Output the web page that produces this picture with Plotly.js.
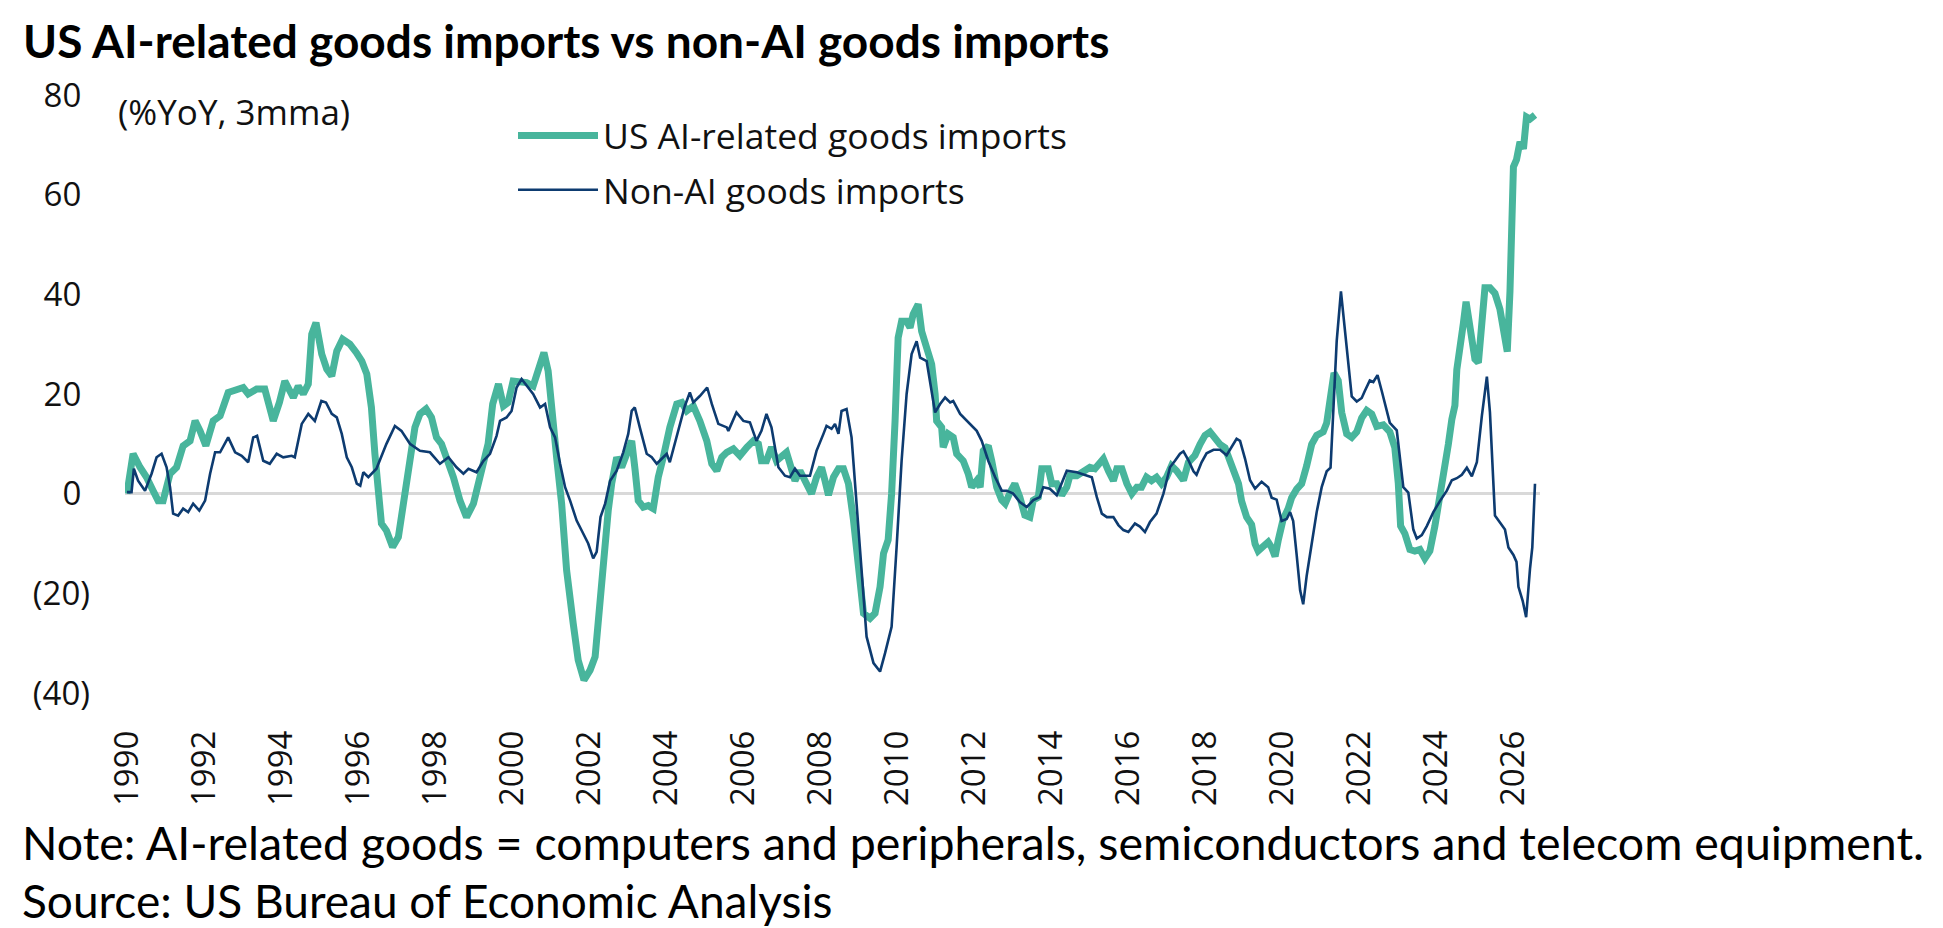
<!DOCTYPE html>
<html>
<head>
<meta charset="utf-8">
<script src="https://cdn.plot.ly/plotly-3.0.1.min.js"></script>
<style>
  html, body { margin: 0; padding: 0; background: #fff; }
  #chart { width: 1943px; height: 928px; }
</style>
</head>
<body>
<div id="chart"></div>
<script>
// values (%YoY, 3mma), x in decimal years
const aiYears = [
  1990.0, 1990.16, 1990.34, 1990.51, 1990.68, 1990.81, 1990.94, 1991.12, 1991.29, 1991.46,
  1991.64, 1991.77, 1991.9, 1992.05, 1992.24, 1992.42, 1992.63, 1992.85, 1993.02, 1993.15,
  1993.37, 1993.58, 1993.8, 1993.96, 1994.1, 1994.32, 1994.45, 1994.58, 1994.71, 1994.8,
  1994.91, 1995.06, 1995.19, 1995.32, 1995.45, 1995.6, 1995.79, 1995.96, 1996.1, 1996.23,
  1996.35, 1996.44, 1996.53, 1996.61, 1996.74, 1996.9, 1997.05, 1997.22, 1997.35, 1997.48,
  1997.61, 1997.77, 1997.91, 1998.04, 1998.17, 1998.35, 1998.48, 1998.65, 1998.82, 1999.0,
  1999.1, 1999.26, 1999.38, 1999.5, 1999.65, 1999.78, 1999.9, 2000.03, 2000.2, 2000.38,
  2000.55, 2000.68, 2000.83, 2000.94, 2001.03, 2001.16, 2001.29, 2001.42, 2001.59, 2001.72,
  2001.87, 2002.03, 2002.16, 2002.24, 2002.37, 2002.5, 2002.59, 2002.72, 2002.85, 2002.98,
  2003.11, 2003.2, 2003.28, 2003.41, 2003.54, 2003.67, 2003.8, 2003.93, 2004.1, 2004.28,
  2004.41, 2004.54, 2004.71, 2004.88, 2005.06, 2005.19, 2005.32, 2005.45, 2005.58, 2005.75,
  2005.92, 2006.1, 2006.27, 2006.4, 2006.48, 2006.61, 2006.74, 2006.87, 2007.0, 2007.13,
  2007.22, 2007.35, 2007.48, 2007.61, 2007.78, 2007.91, 2008.04, 2008.13, 2008.22, 2008.35,
  2008.48, 2008.61, 2008.74, 2008.87, 2009.0, 2009.13, 2009.3, 2009.43, 2009.56, 2009.65,
  2009.77, 2009.86, 2009.95, 2010.03, 2010.12, 2010.25, 2010.34, 2010.42, 2010.55, 2010.64,
  2010.77, 2010.9, 2010.99, 2011.03, 2011.16, 2011.2, 2011.33, 2011.46, 2011.55, 2011.72,
  2011.85, 2011.94, 2012.07, 2012.16, 2012.24, 2012.37, 2012.46, 2012.59, 2012.72, 2012.81,
  2012.94, 2013.06, 2013.19, 2013.32, 2013.45, 2013.54, 2013.67, 2013.76, 2013.93, 2014.02,
  2014.15, 2014.28, 2014.41, 2014.49, 2014.67, 2014.84, 2015.01, 2015.14, 2015.27, 2015.36,
  2015.49, 2015.62, 2015.71, 2015.84, 2015.97, 2016.1, 2016.23, 2016.35, 2016.48, 2016.61,
  2016.74, 2016.87, 2017.0, 2017.13, 2017.26, 2017.44, 2017.57, 2017.74, 2017.87, 2018.0,
  2018.13, 2018.26, 2018.39, 2018.52, 2018.65, 2018.74, 2018.87, 2018.95, 2019.08, 2019.21,
  2019.3, 2019.38, 2019.51, 2019.64, 2019.73, 2019.82, 2019.9, 2020.03, 2020.16, 2020.25,
  2020.38, 2020.51, 2020.64, 2020.77, 2020.9, 2021.07, 2021.16, 2021.25, 2021.35, 2021.46,
  2021.55, 2021.68, 2021.81, 2021.94, 2022.07, 2022.2, 2022.33, 2022.46, 2022.63, 2022.8,
  2022.93, 2023.02, 2023.08, 2023.19, 2023.32, 2023.45, 2023.58, 2023.71, 2023.84, 2023.97,
  2024.1, 2024.23, 2024.32, 2024.41, 2024.49, 2024.54, 2024.62, 2024.71, 2024.78, 2024.87,
  2024.93, 2025.01, 2025.1, 2025.19, 2025.27, 2025.4, 2025.53, 2025.66, 2025.75, 2025.85,
  2025.92, 2025.96, 2026.01, 2026.09, 2026.18, 2026.27, 2026.35, 2026.44, 2026.57
]
const aiValues = [
  0, 8, 5.3, 3.3, 0.6, -1.4, -1.4, 4, 5.3, 9.6,
  10.6, 14.6, 12.6, 9.6, 14.6, 15.6, 20.3, 21, 21.3, 20,
  21, 21, 14.6, 18.3, 22.6, 19.3, 21.6, 20, 22, 32,
  34.3, 28, 25, 23.6, 28.6, 31, 30, 28.3, 26.6, 24,
  17.3, 8, -0.7, -6, -7.4, -10.7, -8.7, -0.7, 7.3, 13.3,
  16, 17, 15.3, 11.3, 10, 6.6, 3.3, -1.4, -4.7, -2,
  1.3, 5.3, 10, 18, 22, 17.6, 18.3, 22.6, 22.3, 22.3,
  21.6, 24.6, 28.3, 24.6, 16.6, 7.3, -2, -15.4, -26, -33.4,
  -37.4, -35.4, -32.7, -25.4, -14, -3.4, 2, 7.3, 5.3, 8,
  10.6, 4.6, -1.4, -2.7, -2.4, -3, 3.3, 7.3, 13.3, 18,
  18.3, 16.6, 17.6, 14.6, 10.6, 6, 4.6, 7.3, 8.3, 9,
  7.6, 9.3, 10.6, 10, 6.6, 6.6, 9.3, 6.6, 7.3, 8.3,
  6, 2.6, 4.6, 2.6, 0, 3.3, 5.3, 2.6, -0.3, 3.3,
  5, 5, 2, -5.3, -15.3, -24, -25, -24, -18.7, -12,
  -9.3, 0, 14.6, 31.3, 34.6, 34.6, 33.3, 36, 38, 32.6,
  29.3, 26, 20, 14.6, 13.3, 9.3, 12, 11.3, 8, 6.6,
  4, 1.3, 2.6, 1.3, 8.6, 9.6, 6.6, 1.3, -1.3, -2,
  0.3, 2, -0.7, -4.3, -4.7, -1.3, -0.7, 5, 5, 2,
  2, -0.3, 1.3, 3.6, 3.6, 4.3, 5.3, 5, 6.3, 7,
  4.6, 2.6, 5, 5, 2, 0, 1.3, 1.3, 3.3, 2.6,
  3.3, 2, 3.3, 5.6, 4.6, 2.7, 6.3, 7.7, 9.9, 11.7,
  12.4, 11, 9.9, 9.2, 6.7, 4.9, 2, -1.5, -4.7, -6.2,
  -10.1, -11.5, -10.8, -9.7, -10.8, -12.6, -9.4, -5.1, -3, -0.8,
  0.9, 2, 5.6, 9.9, 11.7, 12.4, 14.2, 19.9, 24.2, 22.7,
  16.3, 12, 11.3, 12.4, 15.2, 16.7, 16, 13.5, 13.8, 12.4,
  9.2, 2, -6.5, -8, -11.2, -11.5, -11.2, -13, -11.5, -6.5,
  -0.8, 4.2, 9.9, 14.9, 17.7, 24.9, 28.5, 34.2, 38.5, 34.2,
  29.2, 27, 26.3, 34.2, 41.3, 41.3, 40.2, 37, 33.5, 28.5,
  40.6, 52, 65.6, 67, 70.6, 69.2, 75.6, 75.2, 76
]

const nonAiYears = [
  1990.0, 1990.12, 1990.18, 1990.29, 1990.47, 1990.64, 1990.77, 1990.9, 1991.03, 1991.12,
  1991.2, 1991.33, 1991.46, 1991.59, 1991.72, 1991.88, 1992.03, 1992.16, 1992.29, 1992.42,
  1992.63, 1992.81, 1992.98, 1993.15, 1993.28, 1993.38, 1993.54, 1993.71, 1993.89, 1994.06,
  1994.28, 1994.36, 1994.54, 1994.71, 1994.88, 1995.05, 1995.17, 1995.32, 1995.45, 1995.58,
  1995.71, 1995.84, 1995.97, 1996.06, 1996.14, 1996.27, 1996.48, 1996.74, 1996.96, 1997.13,
  1997.35, 1997.61, 1997.87, 1998.13, 1998.35, 1998.56, 1998.74, 1998.87, 1999.08, 1999.26,
  1999.43, 1999.6, 1999.69, 1999.86, 1999.99, 2000.12, 2000.25, 2000.38, 2000.55, 2000.73,
  2000.86, 2000.99, 2001.12, 2001.25, 2001.38, 2001.51, 2001.68, 2001.85, 2001.98, 2002.11,
  2002.2, 2002.3, 2002.42, 2002.55, 2002.72, 2002.89, 2003.02, 2003.11, 2003.19, 2003.32,
  2003.5, 2003.63, 2003.76, 2003.89, 2004.02, 2004.1, 2004.23, 2004.36, 2004.49, 2004.62,
  2004.71, 2004.88, 2005.07, 2005.19, 2005.36, 2005.58, 2005.62, 2005.83, 2006.01, 2006.18,
  2006.35, 2006.48, 2006.61, 2006.74, 2006.92, 2007.09, 2007.22, 2007.35, 2007.48, 2007.74,
  2007.91, 2008.09, 2008.17, 2008.3, 2008.39, 2008.48, 2008.56, 2008.69, 2008.82, 2008.95,
  2009.08, 2009.21, 2009.39, 2009.56, 2009.69, 2009.86, 2009.99, 2010.12, 2010.25, 2010.38,
  2010.51, 2010.6, 2010.77, 2010.86, 2010.99, 2011.12, 2011.25, 2011.38, 2011.46, 2011.64,
  2011.81, 2012.07, 2012.2, 2012.37, 2012.55, 2012.72, 2012.85, 2013.02, 2013.19, 2013.37,
  2013.54, 2013.71, 2013.8, 2013.97, 2014.15, 2014.28, 2014.41, 2014.67, 2014.93, 2015.06,
  2015.19, 2015.32, 2015.45, 2015.62, 2015.75, 2015.88, 2016.01, 2016.18, 2016.31, 2016.44,
  2016.57, 2016.74, 2016.92, 2017.09, 2017.22, 2017.35, 2017.44, 2017.57, 2017.7, 2017.78,
  2017.91, 2018.04, 2018.22, 2018.39, 2018.56, 2018.69, 2018.82, 2018.91, 2019.04, 2019.17,
  2019.3, 2019.47, 2019.64, 2019.73, 2019.86, 2019.99, 2020.12, 2020.21, 2020.29, 2020.38,
  2020.47, 2020.55, 2020.64, 2020.77, 2020.9, 2021.03, 2021.16, 2021.26, 2021.33, 2021.42,
  2021.53, 2021.64, 2021.72, 2021.81, 2021.94, 2022.07, 2022.15, 2022.28, 2022.37, 2022.48,
  2022.59, 2022.72, 2022.8, 2022.98, 2023.06, 2023.15, 2023.28, 2023.41, 2023.5, 2023.63,
  2023.76, 2023.93, 2024.1, 2024.28, 2024.41, 2024.54, 2024.67, 2024.8, 2024.93, 2025.06,
  2025.19, 2025.32, 2025.4, 2025.53, 2025.66, 2025.79, 2025.88, 2026.01, 2026.09, 2026.14,
  2026.25, 2026.34, 2026.44, 2026.5, 2026.57
]
const nonAiValues = [
  0.3, 0.3, 5, 2.6, 0.6, 4, 7.3, 8, 5.3, 1.3,
  -4, -4.4, -3, -3.7, -2, -3.4, -1.4, 4, 8.3, 8.3,
  11.3, 8.3, 7.6, 6.3, 11.3, 11.6, 6.6, 6, 8, 7.3,
  7.6, 7.3, 14, 16, 14.6, 18.6, 18.3, 16, 15.3, 12,
  7.3, 5.3, 2, 1.6, 4.3, 3.3, 5, 10, 13.6, 12.6,
  10, 8.6, 8.3, 6, 7.3, 5.3, 4, 5, 4.3, 6.6,
  8, 11.6, 14.6, 15.3, 16.6, 21.3, 23, 21.6, 20, 17.3,
  18, 13.3, 11.3, 6, 1.3, -1.4, -5.4, -8, -10, -13,
  -11.7, -4.7, -2, 2.6, 4.6, 8.3, 12, 16.6, 17.3, 13.3,
  8, 7.3, 6, 7, 8, 6.3, 10, 13.6, 17.6, 20.3,
  18.3, 19.6, 21.3, 18, 14, 13.3, 12.6, 16.3, 14.6, 14.3,
  10.6, 12.6, 16, 13.3, 5.3, 3.6, 3.3, 5, 3.6, 3.6,
  8.6, 12, 13.6, 13, 14, 12, 16.6, 17, 11.3, -2,
  -16, -28.7, -34, -35.7, -32, -26.7, -10.7, 6.6, 20, 28,
  30.6, 27.3, 26.6, 22, 16.3, 18, 19.3, 18.3, 18.6, 16,
  14.6, 12.6, 10.6, 6.6, 3.3, 0.6, 0.6, 0, -1.7, -2.7,
  -1.3, -0.7, 1.3, 1, -0.3, 2, 4.6, 4.3, 3.6, 3.3,
  -0.7, -4, -4.7, -4.7, -6.3, -7.3, -7.7, -6, -6.6, -7.7,
  -5.7, -4, 0, 5.3, 6.6, 8, 8.5, 6.7, 4.5, 3.8,
  6.3, 8.1, 8.8, 8.8, 7.7, 9.5, 11, 10.6, 7, 2.7,
  1, 2.4, 1.3, -0.8, -1.2, -5.5, -5.1, -3.7, -5.5, -12.3,
  -19.4, -22.2, -16.5, -10.1, -3.7, 1.3, 4.5, 5.2, 16.3, 30.6,
  40.6, 32, 25.6, 19.5, 18.5, 19.2, 20.6, 22.7, 22.4, 23.8,
  20.6, 16.3, 14.2, 12.7, 7, 1.3, 0.2, -7.2, -9, -8.3,
  -6.5, -3.7, -1.5, 0.6, 2.7, 3.1, 3.8, 5.2, 3.5, 6.3,
  15.6, 23.5, 16.3, -4.4, -5.8, -7.2, -10.8, -12.3, -13.7, -18.7,
  -21.5, -24.8, -15.1, -10.8, 2
]

const yearTicks = [1990, 1992, 1994, 1996, 1998, 2000, 2002, 2004, 2006, 2008,
  2010, 2012, 2014, 2016, 2018, 2020, 2022, 2024, 2026]
const yTicks = [-40, -20, 0, 20, 40, 60, 80]
const yTickText = ["(40)", "(20)", "0\u2008", "20\u2008", "40\u2008", "60\u2008", "80\u2008"]

const green = "#48B59C"
const navy = "#0D3B70"

// plot box in page pixels, used to place the texts around it
const box = { left: 125, right: 1540, top: 95, bottom: 693 }
const px = (x) => (x - box.left) / (box.right - box.left)
const py = (y) => (box.bottom - y) / (box.bottom - box.top)

const traces = [
  {
    x: aiYears,
    y: aiValues,
    type: "scatter",
    mode: "lines",
    name: "US AI-related goods imports",
    legendgroup: "ai",
    line: { color: green, width: 7 },
  },
  {
    x: nonAiYears,
    y: nonAiValues,
    type: "scatter",
    mode: "lines",
    name: "Non-AI goods imports",
    legendgroup: "nonai",
    line: { color: navy, width: 2.6 },
  },
]

const axisFont = { family: "Open Sans, Noto Sans, sans-serif", size: 33, color: "#111" }

const layout = {
  width: 1943,
  height: 928,
  margin: { l: box.left, r: 1943 - box.right, t: box.top, b: 928 - box.bottom },
  paper_bgcolor: "#fff",
  plot_bgcolor: "#fff",
  title: {
    text: "<b>US AI-related goods imports vs non-AI goods imports</b>",
    font: { family: "Lato, sans-serif", size: 46, color: "#000" },
    xref: "container",
    yref: "container",
    x: 23 / 1943,
    xanchor: "left",
    y: 1 - 42 / 928,
    yanchor: "middle",
  },
  xaxis: {
    range: [1989.95, 2026.7],
    tickvals: yearTicks,
    ticktext: yearTicks.map(String),
    tickangle: -90,
    tickfont: axisFont,
    ticklabelstandoff: 30,
    showgrid: false,
    zeroline: false,
    showline: false,
    ticks: "",
    fixedrange: true,
  },
  yaxis: {
    range: [-40, 80],
    tickvals: yTicks,
    ticktext: yTickText,
    tickfont: axisFont,
    ticklabelstandoff: 34,
    showgrid: false,
    zeroline: true,
    zerolinecolor: "#D9D9D9",
    zerolinewidth: 3,
    showline: false,
    ticks: "",
    fixedrange: true,
  },
  showlegend: true,
  legend: {
    x: px(513),
    y: py(106),
    xanchor: "left",
    yanchor: "top",
    bgcolor: "rgba(0,0,0,0)",
    font: { family: "Open Sans, Noto Sans, sans-serif", size: 35.5, color: "#111" },
    itemwidth: 80,
    traceorder: "grouped",
    tracegroupgap: 5,
  },
  annotations: [
    {
      text: "(%YoY, 3mma)",
      xref: "paper", yref: "paper",
      x: px(116), y: py(112),
      xanchor: "left", yanchor: "middle",
      showarrow: false,
      font: { family: "Open Sans, Noto Sans, sans-serif", size: 35, color: "#111" },
    },
    {
      text: "Note: AI-related goods = computers and peripherals, semiconductors and telecom equipment.",
      xref: "paper", yref: "paper",
      x: px(20), y: py(842),
      xanchor: "left", yanchor: "middle",
      showarrow: false,
      font: { family: "Lato, sans-serif", size: 46.5, color: "#000" },
    },
    {
      text: "Source: US Bureau of Economic Analysis",
      xref: "paper", yref: "paper",
      x: px(20), y: py(900),
      xanchor: "left", yanchor: "middle",
      showarrow: false,
      font: { family: "Lato, sans-serif", size: 46, color: "#000" },
    },
  ],
}

Plotly.newPlot("chart", traces, layout, { staticPlot: true, displayModeBar: false })
</script>
</body>
</html>
